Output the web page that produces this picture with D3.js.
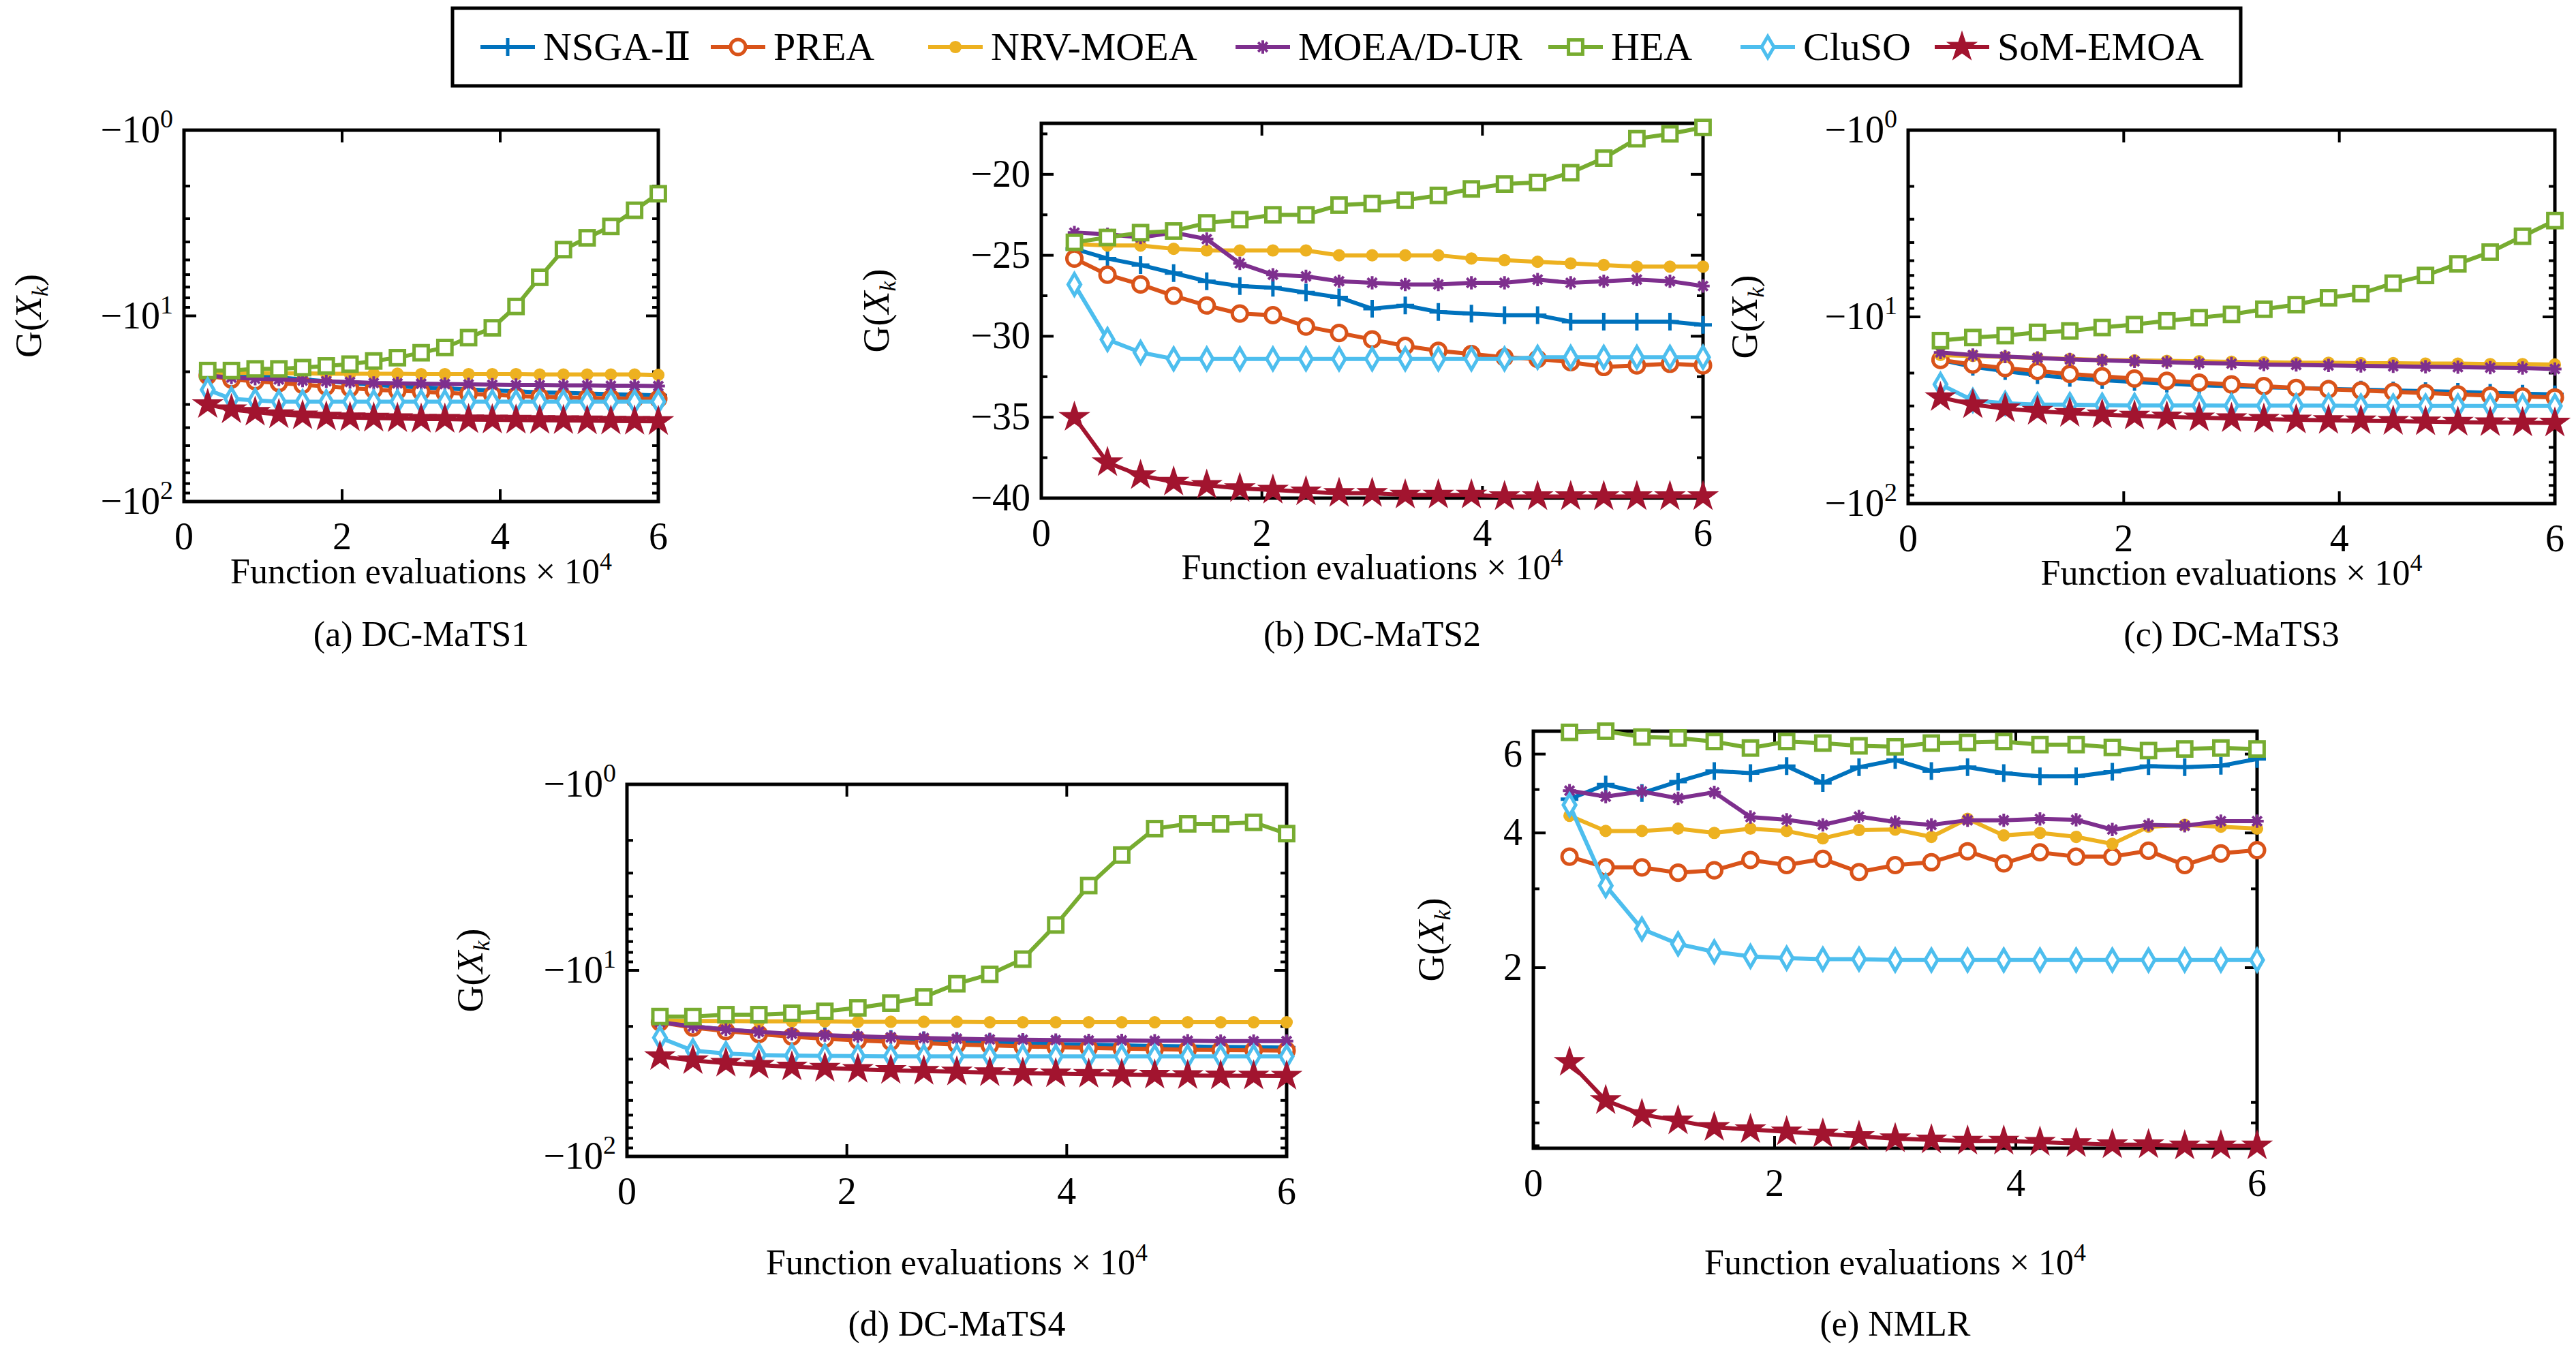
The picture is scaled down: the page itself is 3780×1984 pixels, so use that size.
<!DOCTYPE html>
<html><head><meta charset="utf-8">
<script src="https://cdn.jsdelivr.net/npm/d3@7"></script>
<style>body{margin:0;background:#fff}svg text{font-family:"Liberation Serif","Times New Roman","DejaVu Serif",serif}</style>
</head><body>
<svg id="chart" width="3780" height="1984"></svg>
<script>
const W = 3780, H = 1984;
const svg = d3.select("#chart");

const EVALS = [0.3,0.6,0.9,1.2,1.5,1.8,2.1,2.4,2.7,3.0,3.3,3.6,3.9,4.2,4.5,4.8,5.1,5.4,5.7,6.0];
const ALGOS = ["NSGA-Ⅱ","PREA","NRV-MOEA","MOEA/D-UR","HEA","CluSO","SoM-EMOA"];
const COLORS = ["#0072BD","#D95319","#EDB120","#7E2F8E","#77AC30","#4DBEEE","#A2142F"];
const MARKERS = ["plus","circle","dot","asterisk","square","diamond","star"];

// (a) DC-MaTS1
const A_NSGA = [-20,-20.5,-21,-21.5,-22,-22.5,-23,-23.5,-24,-24.3,-24.6,-24.9,-25.2,-25.5,-25.8,-26,-26.2,-26.4,-26.6,-26.8];
const A_PREA = [-21,-22,-22.5,-23,-23.5,-24,-24.5,-25,-25.3,-25.6,-26,-26.3,-26.6,-27,-27.3,-27.5,-27.7,-27.8,-28,-28];
const A_NRV = [-20.2,-20.3,-20.3,-20.4,-20.4,-20.5,-20.5,-20.5,-20.5,-20.6,-20.6,-20.6,-20.6,-20.6,-20.7,-20.7,-20.7,-20.7,-20.7,-20.8];
const A_MOEAD = [-21,-21.5,-21.8,-22,-22.3,-22.5,-22.7,-23,-23.1,-23.2,-23.3,-23.4,-23.5,-23.6,-23.6,-23.7,-23.7,-23.8,-23.8,-23.9];
const A_HEA = [-19.7,-19.7,-19.3,-19.3,-19.0,-18.6,-18.2,-17.5,-16.8,-15.8,-14.8,-13.1,-11.6,-8.9,-6.2,-4.4,-3.8,-3.3,-2.7,-2.2];
const A_CLU = [-25,-28,-28.5,-29,-29,-29,-29,-29,-29,-29,-29,-29,-29,-29,-29,-29,-29,-29,-29,-29];
const A_SOM = [-30,-32,-33,-34,-34.5,-35,-35.3,-35.5,-35.7,-36,-36,-36.2,-36.3,-36.4,-36.5,-36.6,-36.7,-36.8,-36.9,-37];

// (b) DC-MaTS2
const B_NSGA = [-24.6,-25.2,-25.6,-26.1,-26.6,-26.9,-27,-27.3,-27.6,-28.3,-28.1,-28.5,-28.6,-28.7,-28.7,-29.1,-29.1,-29.1,-29.1,-29.3];
const B_PREA = [-25.2,-26.2,-26.8,-27.5,-28.1,-28.6,-28.7,-29.4,-29.8,-30.2,-30.6,-30.9,-31.1,-31.3,-31.4,-31.6,-31.9,-31.8,-31.7,-31.8];
const B_NRV = [-24.3,-24.4,-24.4,-24.6,-24.7,-24.7,-24.7,-24.7,-25,-25,-25,-25,-25.2,-25.3,-25.4,-25.5,-25.6,-25.7,-25.7,-25.7];
const B_MOEAD = [-23.6,-23.7,-23.9,-23.6,-24,-25.5,-26.2,-26.3,-26.6,-26.7,-26.8,-26.8,-26.7,-26.7,-26.5,-26.7,-26.6,-26.5,-26.6,-26.9];
const B_HEA = [-24.2,-23.9,-23.6,-23.5,-23,-22.8,-22.5,-22.5,-21.9,-21.8,-21.6,-21.3,-20.9,-20.6,-20.5,-19.9,-19,-17.8,-17.5,-17.1];
const B_CLU = [-26.8,-30.2,-31,-31.4,-31.4,-31.4,-31.4,-31.4,-31.4,-31.4,-31.4,-31.4,-31.4,-31.4,-31.3,-31.3,-31.3,-31.3,-31.3,-31.3];
const B_SOM = [-35,-37.8,-38.6,-39,-39.2,-39.4,-39.5,-39.6,-39.7,-39.7,-39.8,-39.8,-39.8,-39.9,-39.9,-39.9,-39.9,-39.9,-39.9,-39.9];

// (c) DC-MaTS3
const C_NSGA = [-17,-18.5,-19.5,-20.5,-21.2,-21.8,-22.3,-22.8,-23.2,-23.5,-23.8,-24,-24.3,-24.5,-24.8,-25,-25.2,-25.5,-25.8,-26];
const C_PREA = [-17,-18,-18.8,-19.5,-20.2,-20.8,-21.4,-22,-22.5,-23,-23.5,-24,-24.4,-24.8,-25.2,-25.6,-26,-26.4,-26.7,-27];
const C_NRV = [-16,-16.2,-16.4,-16.6,-16.8,-17,-17.1,-17.2,-17.3,-17.4,-17.5,-17.6,-17.6,-17.7,-17.7,-17.8,-17.8,-17.9,-17.9,-18];
const C_MOEAD = [-15.5,-16,-16.3,-16.6,-16.9,-17.1,-17.3,-17.5,-17.7,-17.8,-18,-18.1,-18.2,-18.3,-18.4,-18.5,-18.6,-18.7,-18.8,-19];
const C_HEA = [-13.4,-12.9,-12.6,-12.1,-11.9,-11.4,-11.0,-10.5,-10.1,-9.7,-9.1,-8.6,-7.9,-7.5,-6.6,-6.0,-5.2,-4.5,-3.7,-3.05];
const C_CLU = [-23,-28,-29,-29.5,-29.5,-29.7,-29.8,-29.8,-29.8,-29.9,-29.9,-29.9,-29.9,-30,-30,-30,-30,-30,-30,-30];
const C_SOM = [-27,-29.5,-31,-32,-32.8,-33.4,-33.9,-34.3,-34.7,-35,-35.3,-35.6,-35.8,-36,-36.2,-36.4,-36.6,-36.8,-36.9,-37];

// (d) DC-MaTS4
const D_NSGA = [-19,-20,-20.8,-21.5,-22.1,-22.6,-23,-23.4,-23.8,-24.1,-24.4,-24.7,-24.9,-25.1,-25.3,-25.5,-25.6,-25.8,-25.9,-26];
const D_PREA = [-19,-20.3,-21.2,-22,-22.7,-23.3,-23.8,-24.2,-24.6,-25,-25.3,-25.6,-25.9,-26.1,-26.3,-26.5,-26.7,-26.8,-26.9,-27];
const D_NRV = [-18.6,-18.7,-18.7,-18.8,-18.8,-18.8,-18.9,-18.9,-18.9,-18.9,-19,-19,-19,-19,-19,-19,-19,-19,-19,-19];
const D_MOEAD = [-19,-20,-20.8,-21.4,-21.9,-22.3,-22.6,-22.9,-23.1,-23.3,-23.5,-23.6,-23.7,-23.8,-23.8,-23.9,-23.9,-24,-24,-24];
const D_HEA = [-17.7,-17.7,-17.3,-17.3,-17.0,-16.6,-15.9,-15.0,-13.9,-11.8,-10.5,-8.7,-5.7,-3.5,-2.4,-1.73,-1.63,-1.63,-1.6,-1.84];
const D_CLU = [-23,-27,-28,-28.5,-28.7,-28.8,-28.9,-29,-29,-29,-29,-29,-29,-29,-29,-29,-29,-29,-29,-29];
const D_SOM = [-29,-30.5,-31.5,-32.3,-33,-33.5,-34,-34.4,-34.8,-35.1,-35.4,-35.7,-35.9,-36.1,-36.3,-36.5,-36.7,-36.8,-36.9,-37];

// (e) NMLR
const E_NSGA = [4.76,5.13,4.91,5.21,5.5,5.44,5.64,5.17,5.61,5.82,5.5,5.61,5.44,5.35,5.35,5.48,5.64,5.61,5.65,5.85];
const E_PREA = [3.54,3.35,3.35,3.26,3.30,3.48,3.39,3.50,3.27,3.39,3.44,3.64,3.42,3.62,3.54,3.54,3.65,3.39,3.60,3.66];
const E_NRV = [4.37,4.04,4.04,4.09,4.0,4.09,4.04,3.89,4.06,4.07,3.92,4.30,3.95,4.0,3.92,3.78,4.13,4.17,4.13,4.09];
const E_MOEAD = [4.97,4.82,4.95,4.78,4.93,4.34,4.28,4.17,4.35,4.23,4.17,4.27,4.27,4.30,4.28,4.07,4.17,4.15,4.25,4.25];
const E_HEA = [6.71,6.75,6.55,6.52,6.4,6.19,6.4,6.35,6.26,6.23,6.35,6.37,6.4,6.3,6.3,6.21,6.11,6.16,6.19,6.16];
const E_CLU = [4.62,3.05,2.44,2.26,2.17,2.12,2.10,2.09,2.09,2.08,2.08,2.08,2.08,2.08,2.08,2.08,2.08,2.08,2.08,2.08];
const E_SOM = [1.23,1.01,0.94,0.91,0.88,0.87,0.86,0.85,0.84,0.83,0.825,0.82,0.82,0.815,0.81,0.805,0.805,0.80,0.80,0.80];

const X_TICKS = [0,2,4,6];
const B_TICKS = [-20,-25,-30,-35,-40];
const E_TICKS = [2,4,6];

const panels = [
  {cap:"(a) DC-MaTS1", box:[270,191,966,736], type:"neglog", series:[A_NSGA,A_PREA,A_NRV,A_MOEAD,A_HEA,A_CLU,A_SOM], ylx:60, xlb:856, capy:948},
  {cap:"(b) DC-MaTS2", box:[1528,181,2499,731], type:"lin", series:[B_NSGA,B_PREA,B_NRV,B_MOEAD,B_HEA,B_CLU,B_SOM], ylx:1304, xlb:850, capy:948},
  {cap:"(c) DC-MaTS3", box:[2800,191,3749,739], type:"neglog", series:[C_NSGA,C_PREA,C_NRV,C_MOEAD,C_HEA,C_CLU,C_SOM], ylx:2578, xlb:858, capy:948},
  {cap:"(d) DC-MaTS4", box:[920,1151,1888,1697], type:"neglog", series:[D_NSGA,D_PREA,D_NRV,D_MOEAD,D_HEA,D_CLU,D_SOM], ylx:708, xlb:1870, capy:1960},
  {cap:"(e) NMLR", box:[2250,1073,3312,1685], type:"log", series:[E_NSGA,E_PREA,E_NRV,E_MOEAD,E_HEA,E_CLU,E_SOM], ylx:2118, xlb:1870, capy:1960}
];

function marker(g, type, color, s) {
  const r = s / 2;
  if (type === "plus") {
    g.append("path").attr("d", `M${-r},0H${r}M0,${-r}V${r}`).attr("stroke", color).attr("stroke-width", 5).attr("fill", "none");
  } else if (type === "asterisk") {
    const a = r * 0.75;
    g.append("path").attr("d", `M${-a},0H${a}M0,${-a}V${a}M${-a*0.7},${-a*0.7}L${a*0.7},${a*0.7}M${-a*0.7},${a*0.7}L${a*0.7},${-a*0.7}`)
      .attr("stroke", color).attr("stroke-width", 4).attr("fill", "none");
  } else if (type === "circle") {
    g.append("circle").attr("r", r * 0.85).attr("fill", "#fff").attr("stroke", color).attr("stroke-width", 5);
  } else if (type === "dot") {
    g.append("circle").attr("r", r * 0.7).attr("fill", color);
  } else if (type === "square") {
    g.append("rect").attr("x", -r*0.8).attr("y", -r*0.8).attr("width", r*1.6).attr("height", r*1.6)
      .attr("fill", "#fff").attr("stroke", color).attr("stroke-width", 5);
  } else if (type === "diamond") {
    g.append("path").attr("d", `M0,${-r*1.2}L${r*0.7},0L0,${r*1.2}L${-r*0.7},0Z`)
      .attr("fill", "#fff").attr("stroke", color).attr("stroke-width", 5);
  } else if (type === "star") {
    g.append("path").attr("d", d3.symbol(d3.symbolStar, s * s * 0.75)()).attr("fill", color).attr("stroke", color).attr("stroke-width", 2);
  }
}

function yLabel(x, y) {
  const t = svg.append("text").attr("transform", `translate(${x},${y}) rotate(-90)`)
    .attr("text-anchor", "middle").attr("font-size", 54);
  t.append("tspan").text("G(");
  t.append("tspan").attr("font-style", "italic").text("X");
  t.append("tspan").attr("font-style", "italic").attr("font-size", 34).attr("dy", 10).text("k");
  t.append("tspan").attr("dy", -10).text(")");
}

panels.forEach(p => {
  const [x0, y0, x1, y1] = p.box;
  const g = svg.append("g");
  const xs = d3.scaleLinear().domain([0, 6]).range([x0, x1]);
  let ys, yfun, ticks, minor = [];
  if (p.type === "neglog") {
    ys = d3.scaleLog().domain([1, 100]).range([y0, y1]);
    yfun = v => ys(-v);
    ticks = [1, 10, 100];
    for (let k = 2; k <= 9; k++) { minor.push(k); minor.push(k * 10); }
  } else if (p.type === "lin") {
    ys = d3.scaleLinear().domain([-16.85, -40]).range([y0, y1]);
    yfun = v => ys(v);
    ticks = B_TICKS;
    minor = d3.range(-17.5, -40, -2.5).filter(v => v % 5 !== 0);
  } else {
    ys = d3.scaleLog().domain([0.79, 6.75]).range([y1, y0]);
    yfun = v => ys(v);
    ticks = E_TICKS;
    minor = [0.8, 0.9, 1, 3, 5];
  }
  g.append("rect").attr("x", x0).attr("y", y0).attr("width", x1 - x0).attr("height", y1 - y0)
    .attr("fill", "none").attr("stroke", "#000").attr("stroke-width", 5);
  X_TICKS.forEach(t => {
    const x = xs(t);
    g.append("line").attr("x1", x).attr("x2", x).attr("y1", y1).attr("y2", y1 - 18).attr("stroke", "#000").attr("stroke-width", 4);
    g.append("line").attr("x1", x).attr("x2", x).attr("y1", y0).attr("y2", y0 + 18).attr("stroke", "#000").attr("stroke-width", 4);
    g.append("text").attr("x", x).attr("y", y1 + 70).attr("text-anchor", "middle").attr("font-size", 56).text(t);
  });
  ticks.forEach(t => {
    const y = p.type === "neglog" ? ys(t) : yfun(t);
    g.append("line").attr("x1", x0).attr("x2", x0 + 18).attr("y1", y).attr("y2", y).attr("stroke", "#000").attr("stroke-width", 4);
    g.append("line").attr("x1", x1).attr("x2", x1 - 18).attr("y1", y).attr("y2", y).attr("stroke", "#000").attr("stroke-width", 4);
    const tx = g.append("text").attr("x", x0 - 16).attr("y", y + 18).attr("text-anchor", "end").attr("font-size", 56);
    if (p.type === "neglog") {
      tx.append("tspan").text("−10");
      tx.append("tspan").attr("font-size", 38).attr("dy", -22).text(Math.round(Math.log10(t)));
    } else {
      tx.text(p.type === "lin" ? "−" + Math.abs(t) : t);
    }
  });
  minor.forEach(t => {
    const y = p.type === "neglog" ? ys(t) : yfun(t);
    g.append("line").attr("x1", x0).attr("x2", x0 + 9).attr("y1", y).attr("y2", y).attr("stroke", "#000").attr("stroke-width", 4);
    g.append("line").attr("x1", x1).attr("x2", x1 - 9).attr("y1", y).attr("y2", y).attr("stroke", "#000").attr("stroke-width", 4);
  });
  const line = d3.line().x((d, i) => xs(EVALS[i])).y(d => yfun(d));
  p.series.forEach((vals, k) => {
    g.append("path").datum(vals).attr("d", line).attr("fill", "none").attr("stroke", COLORS[k]).attr("stroke-width", 6);
    vals.forEach((v, i) => {
      marker(g.append("g").attr("transform", `translate(${xs(EVALS[i])},${yfun(v)})`), MARKERS[k], COLORS[k], 26);
    });
  });
  const xl = g.append("text").attr("x", (x0 + x1) / 2).attr("y", p.xlb).attr("text-anchor", "middle").attr("font-size", 52);
  xl.append("tspan").text("Function evaluations × 10");
  xl.append("tspan").attr("font-size", 36).attr("dy", -20).text("4");
  svg.append("text").attr("x", (x0 + x1) / 2).attr("y", p.capy)
    .attr("text-anchor", "middle").attr("font-size", 52).text(p.cap);
  yLabel(p.ylx, (y0 + y1) / 2);
});

// legend
svg.append("rect").attr("x", 664).attr("y", 12).attr("width", 2624).attr("height", 114)
  .attr("fill", "#fff").attr("stroke", "#000").attr("stroke-width", 5);
const LEG_X = [705, 1043, 1362, 1813, 2272, 2554, 2839];
ALGOS.forEach((name, k) => {
  const lx = LEG_X[k];
  svg.append("line").attr("x1", lx).attr("x2", lx + 80).attr("y1", 69).attr("y2", 69).attr("stroke", COLORS[k]).attr("stroke-width", 6);
  marker(svg.append("g").attr("transform", `translate(${lx + 40},69)`), MARKERS[k], COLORS[k], 26);
  svg.append("text").attr("x", lx + 92).attr("y", 88).attr("font-size", 58).text(name);
});
</script>
</body></html>
